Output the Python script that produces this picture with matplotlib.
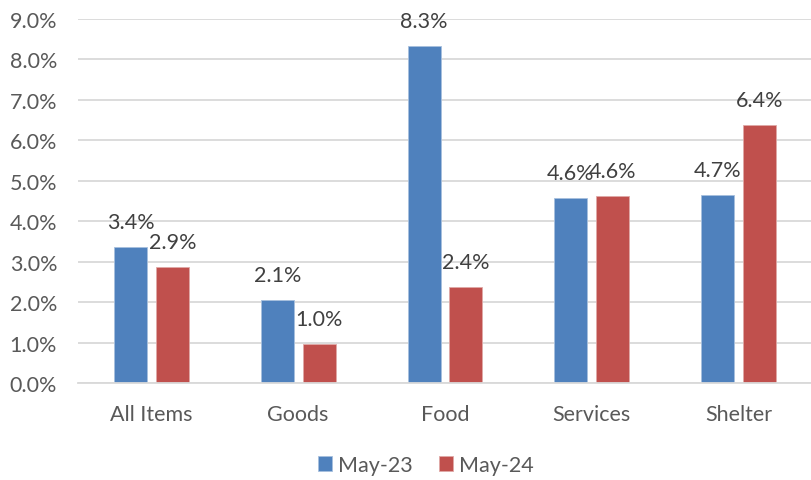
import matplotlib
matplotlib.use("Agg")
import matplotlib.pyplot as plt
import numpy as np

plt.rcParams['font.family'] = ['Lato', 'DejaVu Sans']

categories = ['All Items', 'Goods', 'Food', 'Services', 'Shelter']
may23 = [3.36, 2.06, 8.34, 4.57, 4.66]
may24 = [2.86, 0.97, 2.38, 4.62, 6.39]
series_names = ['May-23', 'May-24']
yticks = [0, 1, 2, 3, 4, 5, 6, 7, 8, 9]

blue = '#4F81BD'
red = '#C0504D'
grid_color = '#D9D9D9'
axis_text = '#595959'
label_text = '#404040'
fsize = 15.5

fig = plt.figure(figsize=(8.12, 4.81), dpi=100)
ax = fig.add_axes([0.096, 0.2017, 0.904, 0.7567])

x = np.arange(len(categories))
w = 0.225
gap = 0.03
b1 = ax.bar(x - w / 2 - gap, may23, width=w, color=blue, edgecolor='#A7C0DE', linewidth=0.6, label=series_names[0], zorder=3)
b2 = ax.bar(x + w / 2 + gap, may24, width=w, color=red, edgecolor='#E0A9A7', linewidth=0.6, label=series_names[1], zorder=3)

# value labels above each bar
for bars, vals in ((b1, may23), (b2, may24)):
    for rect, v in zip(bars, vals):
        ax.annotate(f'{v:.1f}%', (rect.get_x() + rect.get_width() / 2, v),
                    xytext=(0, 18), textcoords='offset points',
                    ha='center', va='center', fontsize=fsize, color=label_text)

ax.set_xlim(-0.5, len(categories) - 0.5)
ax.set_ylim(0, 9)
ax.set_yticks(yticks)
ax.set_yticklabels([f'{t:.1f}%' for t in yticks])
ax.set_xticks(x)
ax.set_xticklabels(categories)
ax.tick_params(axis='both', length=0, labelsize=fsize, labelcolor=axis_text)
ax.tick_params(axis='x', pad=15)
ax.tick_params(axis='y', pad=15)

ax.grid(axis='y', color=grid_color, linewidth=1.3, zorder=0)
for side in ('top', 'right', 'left'):
    ax.spines[side].set_visible(False)
ax.spines['bottom'].set_color(grid_color)
ax.spines['bottom'].set_linewidth(1.3)
ax.spines['bottom'].set_zorder(4)

fig.legend(handles=[b1, b2], loc='center', bbox_to_anchor=(426 / 812, 1 - 466 / 481),
           ncol=2, frameon=False, fontsize=fsize, handlelength=0.65, handleheight=0.65,
           handletextpad=0.3, columnspacing=1.2, labelcolor=axis_text)

fig.savefig('out.png', dpi=100)
